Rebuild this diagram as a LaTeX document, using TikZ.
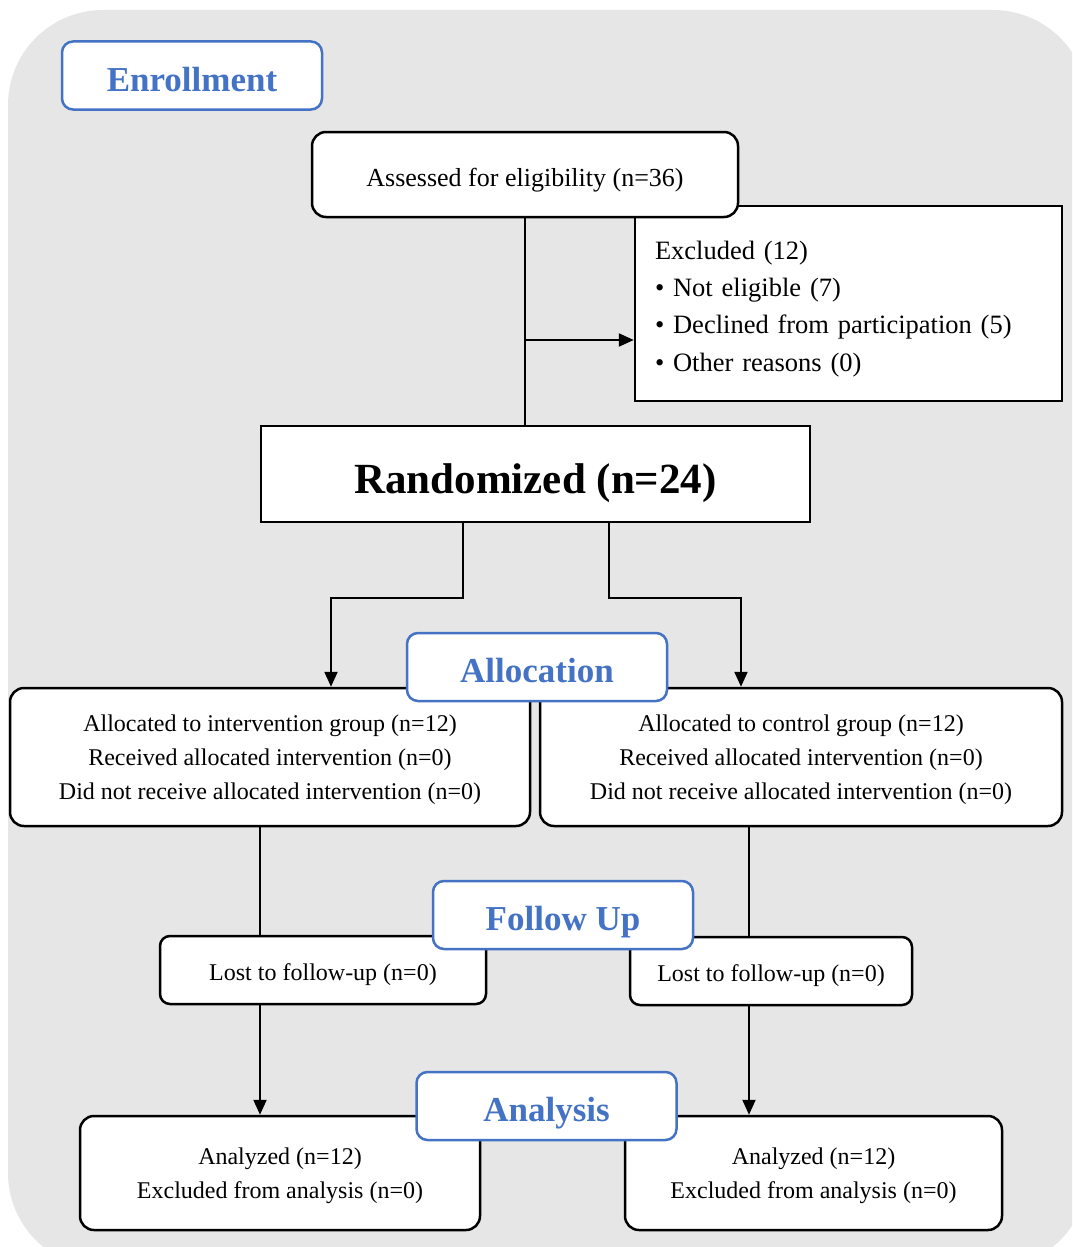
\documentclass[tikz,border=0pt]{standalone}
\usepackage{fontspec}
\setmainfont{Liberation Serif}
\usetikzlibrary{positioning, calc, arrows.meta}
\definecolor{stageblue}{HTML}{4472C4}
\definecolor{panelgray}{HTML}{E6E6E6}
\tikzset{every node/.append style={text depth=0pt, execute at begin node={\rule{0pt}{0.9em}}}}
\tikzset{box/.style={draw=black, fill=white, line width=2.5pt, rounded corners=14pt, inner sep=0pt, align=center}}
\tikzset{sharpbox/.style={draw=black, fill=white, line width=2.5pt, inner sep=0pt}}
\tikzset{stage/.style={draw=stageblue, fill=white, line width=2.5pt, rounded corners=11pt, inner sep=0pt,
  minimum width=260pt, minimum height=68pt, text=stageblue, font=\fontsize{35}{40}\selectfont\bfseries}}
\tikzset{flow/.style={line width=2.2pt}}
\tikzset{flowarr/.style={line width=2.2pt, -{Triangle[length=15pt,width=13pt]}}}

\begin{document}
\begin{tikzpicture}[x=1pt, y=-1pt]
      \useasboundingbox (0,0) rectangle (1072,1247);
      \clip (0,0) rectangle (1072,1247);
      \fill[panelgray, rounded corners=95pt] (8,10) rectangle (1088,1268);

      % enrollment
      \node[sharpbox, minimum width=427pt, minimum height=195pt, text width=387pt, inner xsep=20pt, align=left,
            text depth=, execute at begin node={\rule{0pt}{1.1em}},
            font=\fontsize{26.5}{37.4}\selectfont] (excl) at (848.5,303.5)
            {Excluded (12)\\• Not eligible (7)\\• Declined from participation (5)\\• Other reasons (0)};
      \node[box, minimum width=426pt, minimum height=85pt, font=\fontsize{26}{30}\selectfont] (assess) at (525,174.5)
            {Assessed for eligibility (n=36)};
      \node[sharpbox, minimum width=549pt, minimum height=96pt, font=\fontsize{43}{48}\selectfont\bfseries] (rand) at (535.5,474)
            {Randomized (n=24)};
      \coordinate (branch) at (525,340);
      \draw[flow] (assess.south) -- (assess.south |- rand.north);
      \draw[flowarr] (branch) -- (branch -| excl.west);

      % allocation
      \node[box, minimum width=520pt, minimum height=138pt, font=\fontsize{24}{34}\selectfont] (allocL) at (270,757)
            {Allocated to intervention group (n=12)\\Received allocated intervention (n=0)\\Did not receive allocated intervention (n=0)};
      \node[box, minimum width=522pt, minimum height=138pt, font=\fontsize{24}{34}\selectfont] (allocR) at (801,757)
            {Allocated to control group (n=12)\\Received allocated intervention (n=0)\\Did not receive allocated intervention (n=0)};
      \draw[flowarr] ([xshift=-72.5pt]rand.south) -- ++(0,75) -| ([xshift=61pt]allocL.north);
      \draw[flowarr] ([xshift=73.5pt]rand.south) -- ++(0,75) -| ([xshift=-60pt]allocR.north);

      % follow up
      \node[box, minimum width=326pt, minimum height=68pt, rounded corners=10pt, font=\fontsize{24}{28}\selectfont] (lostL) at (323,970)
            {Lost to follow-up (n=0)};
      \node[box, minimum width=282pt, minimum height=68pt, rounded corners=10pt, font=\fontsize{24}{28}\selectfont] (lostR) at (771,971)
            {Lost to follow-up (n=0)};

      % analysis
      \node[box, minimum width=400pt, minimum height=114pt, font=\fontsize{24}{34}\selectfont] (anaL) at (280,1173)
            {Analyzed (n=12)\\Excluded from analysis (n=0)};
      \node[box, minimum width=377pt, minimum height=114pt, font=\fontsize{24}{34}\selectfont] (anaR) at (813.5,1173)
            {Analyzed (n=12)\\Excluded from analysis (n=0)};

      \draw[flow] ([xshift=-10pt]allocL.south) -- ([xshift=-10pt]allocL.south |- lostL.north);
      \draw[flowarr] ([xshift=-10pt]allocL.south |- lostL.south) -- ([xshift=-10pt]allocL.south |- anaL.north);
      \draw[flow] ([xshift=-52pt]allocR.south) -- ([xshift=-52pt]allocR.south |- lostR.north);
      \draw[flowarr] ([xshift=-52pt]allocR.south |- lostR.south) -- ([xshift=-52pt]allocR.south |- anaR.north);

      % stage labels
      \node[stage] (enroll) at (192,75.5) {Enrollment};
      \node[stage] (allocation) at (537,667) {Allocation};
      \node[stage] (followup) at (563,915) {Follow Up};
      \node[stage] (analysis) at (546.5,1106) {Analysis};
\end{tikzpicture}
\end{document}
